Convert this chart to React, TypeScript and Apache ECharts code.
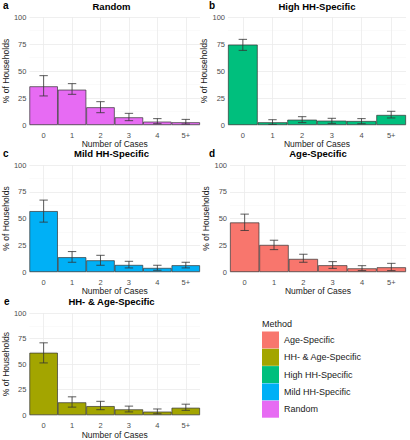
import React, { useEffect, useRef } from "react";
import * as echarts from "echarts";

const categories = ["0", "1", "2", "3", "4", "5+"];
const methods = ["Age-Specific", "HH- & Age-Specific", "High HH-Specific", "Mild HH-Specific", "Random"];
const methodColors = ["#F8766D", "#A3A500", "#00BF7D", "#00B0F6", "#E76BF3"];

// panel a: Random
const randomPct = [35.8, 32.7, 16.4, 7.1, 3.1, 2.5];
const randomLo = [26.9, 28.4, 11.4, 4.0, 1.2, 0.9];
const randomHi = [45.7, 38.3, 21.6, 10.8, 5.9, 5.2];
// panel b: High HH-Specific
const highPct = [74.4, 2.5, 4.9, 4.0, 3.7, 9.3];
const highLo = [69.1, 0.6, 2.2, 1.5, 1.2, 6.5];
const highHi = [79.3, 4.9, 7.7, 6.2, 5.9, 12.7];
// panel c: Mild HH-Specific
const mildPct = [56.9, 13.8, 10.9, 6.6, 3.8, 6.3];
const mildLo = [46.6, 9.1, 6.3, 3.8, 1.6, 3.8];
const mildHi = [67.2, 19.1, 15.6, 10.0, 6.3, 9.1];
// panel d: Age-Specific
const agePct = [46.3, 25.3, 12.2, 6.3, 3.4, 4.4];
const ageLo = [38.8, 20.9, 9.1, 3.4, 1.3, 1.3];
const ageHi = [54.1, 29.7, 16.6, 9.7, 5.9, 8.1];
// panel e: HH- & Age-Specific
const hhAgePct = [61.1, 12.5, 8.8, 5.6, 3.4, 7.2];
const hhAgeLo = [51.1, 7.8, 5.3, 3.1, 1.3, 4.7];
const hhAgeHi = [70.8, 17.9, 13.5, 8.8, 6.0, 10.7];

const yTicks = [0, 25, 50, 75, 100];

const FONT = "Liberation Sans, Arial, sans-serif";

const panels = [
  { tag: "a", title: "Random", method: "Random", pct: randomPct, lo: randomLo, hi: randomHi,
    grid: { left: 23, top: 17, width: 177, height: 108 }, titleY: 6, tagX: 3, tagY: 5 },
  { tag: "b", title: "High HH-Specific", method: "High HH-Specific", pct: highPct, lo: highLo, hi: highHi,
    grid: { left: 228, top: 17, width: 178, height: 108 }, titleY: 6, tagX: 209, tagY: 5 },
  { tag: "c", title: "Mild HH-Specific", method: "Mild HH-Specific", pct: mildPct, lo: mildLo, hi: mildHi,
    grid: { left: 23, top: 165, width: 177, height: 107 }, titleY: 153.5, tagX: 3, tagY: 153 },
  { tag: "d", title: "Age-Specific", method: "Age-Specific", pct: agePct, lo: ageLo, hi: ageHi,
    grid: { left: 230, top: 165, width: 176, height: 107 }, titleY: 153.5, tagX: 209, tagY: 153 },
  { tag: "e", title: "HH- & Age-Specific", method: "HH- & Age-Specific", pct: hhAgePct, lo: hhAgeLo, hi: hhAgeHi,
    grid: { left: 23, top: 313, width: 177, height: 107 }, titleY: 301.5, tagX: 4, tagY: 301 },
];

export default function App() {
  const ref = useRef<HTMLDivElement>(null);
  useEffect(() => {
    document.body.style.margin = "0";
    const chart = echarts.init(ref.current!, null, { renderer: "svg" });
    const grids: any[] = [];
    const xAxes: any[] = [];
    const yAxes: any[] = [];
    const series: any[] = [];
    const graphics: any[] = [];
    panels.forEach((p, i) => {
      grids.push({ ...p.grid, containLabel: false });
      xAxes.push({
        gridIndex: i,
        type: "category",
        data: categories,
        name: "Number of Cases",
        nameLocation: "middle",
        nameGap: 12,
        nameTextStyle: { fontSize: 8.5, lineHeight: 9, color: "#1A1A1A", fontFamily: FONT },
        axisLine: { show: false },
        axisTick: { show: false },
        axisLabel: { fontSize: 7.5, lineHeight: 8, color: "#4D4D4D", margin: 6, fontFamily: FONT },
        splitLine: { show: true, alignWithLabel: true, lineStyle: { color: "#EBEBEB", width: 0.8 } },
      });
      yAxes.push({
        gridIndex: i,
        type: "value",
        min: yTicks[0],
        max: yTicks[yTicks.length - 1],
        interval: 25,
        name: "% of Households",
        nameLocation: "middle",
        nameGap: 13,
        nameTextStyle: { fontSize: 8.5, lineHeight: 9, color: "#1A1A1A", fontFamily: FONT },
        axisLine: { show: false },
        axisTick: { show: false },
        axisLabel: { fontSize: 7.5, color: "#4D4D4D", margin: 3, fontFamily: FONT },
        splitLine: { show: true, lineStyle: { color: "#EBEBEB", width: 0.8 } },
        minorTick: { show: false, splitNumber: 2 },
        minorSplitLine: { show: true, lineStyle: { color: "#F4F4F4", width: 0.5 } },
      });
      const color = methodColors[methods.indexOf(p.method)];
      series.push({
        type: "bar",
        name: p.method,
        xAxisIndex: i,
        yAxisIndex: i,
        data: p.pct,
        barWidth: "100%",
        barCategoryGap: "0%",
        itemStyle: { color, borderColor: "#333333", borderWidth: 0.7 },
        z: 2,
      });
      series.push({
        type: "custom",
        name: p.method + " CI",
        xAxisIndex: i,
        yAxisIndex: i,
        data: categories.map((_, k) => [k, p.lo[k], p.hi[k]]),
        encode: { x: 0, y: [1, 2] },
        z: 3,
        renderItem: (params: any, api: any) => {
          const x = api.value(0);
          const top = api.coord([x, api.value(2)]);
          const bot = api.coord([x, api.value(1)]);
          const hw = 4.2;
          const st = { stroke: "#333333", lineWidth: 0.8 };
          return {
            type: "group",
            children: [
              { type: "line", shape: { x1: top[0], y1: top[1], x2: bot[0], y2: bot[1] }, style: st },
              { type: "line", shape: { x1: top[0] - hw, y1: top[1], x2: top[0] + hw, y2: top[1] }, style: st },
              { type: "line", shape: { x1: bot[0] - hw, y1: bot[1], x2: bot[0] + hw, y2: bot[1] }, style: st },
            ],
          };
        },
      });
      graphics.push({
        type: "text",
        x: p.grid.left + p.grid.width / 2,
        y: p.titleY,
        style: {
          text: p.title,
          fontSize: 9.5,
          lineHeight: 10,
          fontWeight: "bold",
          fontFamily: FONT,
          fill: "#000000",
          textAlign: "center",
          textVerticalAlign: "middle",
        },
      });
      graphics.push({
        type: "text",
        x: p.tagX,
        y: p.tagY,
        style: {
          text: p.tag,
          fontSize: 10,
          lineHeight: 10,
          fontWeight: "bold",
          fontFamily: FONT,
          fill: "#000000",
          textAlign: "left",
          textVerticalAlign: "middle",
        },
      });
    });
    graphics.push({
      type: "text",
      x: 262,
      y: 324,
      style: {
        text: "Method",
        fontSize: 9,
        fontFamily: FONT,
        fill: "#1A1A1A",
        textAlign: "left",
        textVerticalAlign: "middle",
      },
    });
    chart.setOption({
      animation: false,
      textStyle: { fontFamily: FONT },
      grid: grids,
      xAxis: xAxes,
      yAxis: yAxes,
      series,
      legend: {
        data: methods,
        orient: "vertical",
        left: 262,
        top: 331.5,
        padding: 0,
        itemWidth: 17,
        itemHeight: 17,
        itemGap: 0.3,
        icon: "rect",
        selectedMode: false,
        itemStyle: { borderWidth: 0 },
        textStyle: { fontSize: 9, color: "#1A1A1A", fontFamily: FONT, padding: [0, 0, 0, 0] },
      },
      graphic: graphics,
    });
    return () => chart.dispose();
  }, []);
  return <div ref={ref} style={{ width: 410, height: 440 }} />;
}
